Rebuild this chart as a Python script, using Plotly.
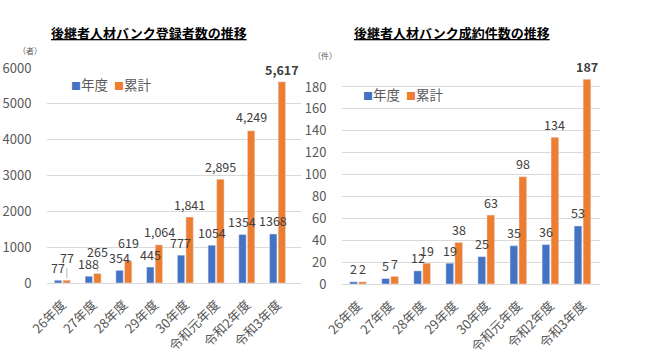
import plotly.graph_objects as go

# ---------------- data ----------------
categories = ["26年度", "27年度", "28年度", "29年度", "30年度", "令和元年度", "令和2年度", "令和3年度"]

reg_annual = [77, 188, 354, 445, 777, 1054, 1354, 1368]
reg_cumulative = [77, 265, 619, 1064, 1841, 2895, 4249, 5617]

deal_annual = [2, 5, 12, 19, 25, 35, 36, 53]
deal_cumulative = [2, 7, 19, 38, 63, 98, 134, 187]

left_title = "後継者人材バンク登録者数の推移"
right_title = "後継者人材バンク成約件数の推移"
left_unit = "（者）"
right_unit = "（件）"
series_names = ["年度", "累計"]

# ---------------- style ----------------
BLUE = "#4472C4"
ORANGE = "#ED7D31"
GRID = "#D9D9D9"
TICK = "#595959"
LABEL = "#404040"
FONT = "Noto Sans CJK JP"
W, H = 650, 357

def px_x(p):
    return p / W

def px_y(p):
    return 1 - p / H

left_dom_x = [px_x(47), px_x(301)]
left_dom_y = [px_y(283), px_y(68)]
right_dom_x = [px_x(342), px_x(600)]
right_dom_y = [px_y(284), px_y(76)]

BARGAP = 0.44
BARGROUPGAP = 0.14
SLOT = (1 - BARGAP) / 2  # category fraction per series slot

fig = go.Figure()

fig.add_trace(go.Bar(x=categories, y=reg_annual, name=series_names[0], marker_color=BLUE,
                     xaxis="x", yaxis="y", showlegend=False))
fig.add_trace(go.Bar(x=categories, y=reg_cumulative, name=series_names[1], marker_color=ORANGE,
                     xaxis="x", yaxis="y", showlegend=False))
fig.add_trace(go.Bar(x=categories, y=deal_annual, name=series_names[0], marker_color=BLUE,
                     xaxis="x2", yaxis="y2", showlegend=False))
fig.add_trace(go.Bar(x=categories, y=deal_cumulative, name=series_names[1], marker_color=ORANGE,
                     xaxis="x2", yaxis="y2", showlegend=False))

annotations = []

def fmt(v, comma):
    return f"{v:,}" if comma else f"{v}"

def add_labels(values, xref, yref, dom, sign, comma, lifts=None, arrows=None, bold_last=False):
    cat_px = (dom[1] - dom[0]) * W / len(categories)
    shift = sign * SLOT / 2 * cat_px
    for i, (c, v) in enumerate(zip(categories, values)):
        txt = fmt(v, comma)
        if bold_last and i == len(values) - 1:
            txt = f"<b>{txt}</b>"
        lift = lifts[i] if lifts else 13
        if arrows and arrows[i]:
            annotations.append(dict(x=c, y=v, xref=xref, yref=yref, xshift=shift,
                                    text=txt, showarrow=True, arrowhead=0, arrowwidth=0.8,
                                    arrowcolor="#A6A6A6", ax=0, ay=-lift, standoff=2,
                                    font=dict(family=FONT, size=12.5, color=LABEL)))
        else:
            annotations.append(dict(x=c, y=v, xref=xref, yref=yref, xshift=shift, yshift=lift,
                                    text=txt, showarrow=False, yanchor="middle",
                                    font=dict(family=FONT, size=12.5, color=LABEL)))

add_labels(reg_annual, "x", "y", left_dom_x, -1, False)
add_labels(reg_cumulative, "x", "y", left_dom_x, 1, True,
           lifts=[23, 22, 18, 13, 13, 13, 14, 12],
           arrows=[True, True, False, False, False, False, False, False], bold_last=True)
add_labels(deal_annual, "x2", "y2", right_dom_x, -1, False)
add_labels(deal_cumulative, "x2", "y2", right_dom_x, 1, False, bold_last=True)

# titles
for cx, t in [(149, left_title), (452, right_title)]:
    annotations.append(dict(x=px_x(cx), y=px_y(32), xref="paper", yref="paper",
                            text=f"<b><u>{t}</u></b>", showarrow=False,
                            xanchor="center", yanchor="middle",
                            font=dict(family=FONT, size=13, color="#000000")))

# unit labels
for cx, cy, t in [(30, 51, left_unit), (325, 55, right_unit)]:
    annotations.append(dict(x=px_x(cx), y=px_y(cy), xref="paper", yref="paper",
                            text=t, showarrow=False, xanchor="center", yanchor="middle",
                            font=dict(family=FONT, size=8, color=TICK)))

# legends
legend_txt = (f'<span style="color:{BLUE};font-size:10px">■</span>{series_names[0]}  '
              f'<span style="color:{ORANGE};font-size:10px">■</span>{series_names[1]}')
for lx, ly in [(69, 84), (361, 94)]:
    annotations.append(dict(x=px_x(lx), y=px_y(ly), xref="paper", yref="paper",
                            text=legend_txt, showarrow=False, xanchor="left", yanchor="middle",
                            font=dict(family=FONT, size=13.5, color=TICK)))

xaxis_common = dict(type="category", tickangle=-45, showgrid=False, showline=True,
                    linecolor=GRID, linewidth=1, ticks="outside", ticklen=8,
                    tickcolor="rgba(0,0,0,0)", automargin=False,
                    tickfont=dict(family=FONT, size=13, color=TICK), fixedrange=True)
yaxis_common = dict(showgrid=True, gridcolor=GRID, gridwidth=1, zeroline=False,
                    showline=False, ticks="outside", ticklen=12, tickcolor="rgba(0,0,0,0)",
                    automargin=False,
                    tickfont=dict(family=FONT, size=13, color=TICK), fixedrange=True)

fig.update_layout(
    width=W, height=H, autosize=False,
    margin=dict(l=0, r=0, t=0, b=0, pad=0, autoexpand=False),
    paper_bgcolor="white", plot_bgcolor="white",
    barmode="group", bargap=BARGAP, bargroupgap=BARGROUPGAP,
    xaxis=dict(domain=left_dom_x, anchor="y", **xaxis_common),
    yaxis=dict(domain=left_dom_y, anchor="x", range=[0, 6000], dtick=1000, **yaxis_common),
    xaxis2=dict(domain=right_dom_x, anchor="y2", **xaxis_common),
    yaxis2=dict(domain=right_dom_y, anchor="x2", range=[0, 190], dtick=20, **yaxis_common),
    annotations=annotations,
    showlegend=False,
)

fig.write_html("out.html", config={"displayModeBar": False},
               post_script="document.body.style.margin='0px';document.body.style.padding='0px';")
